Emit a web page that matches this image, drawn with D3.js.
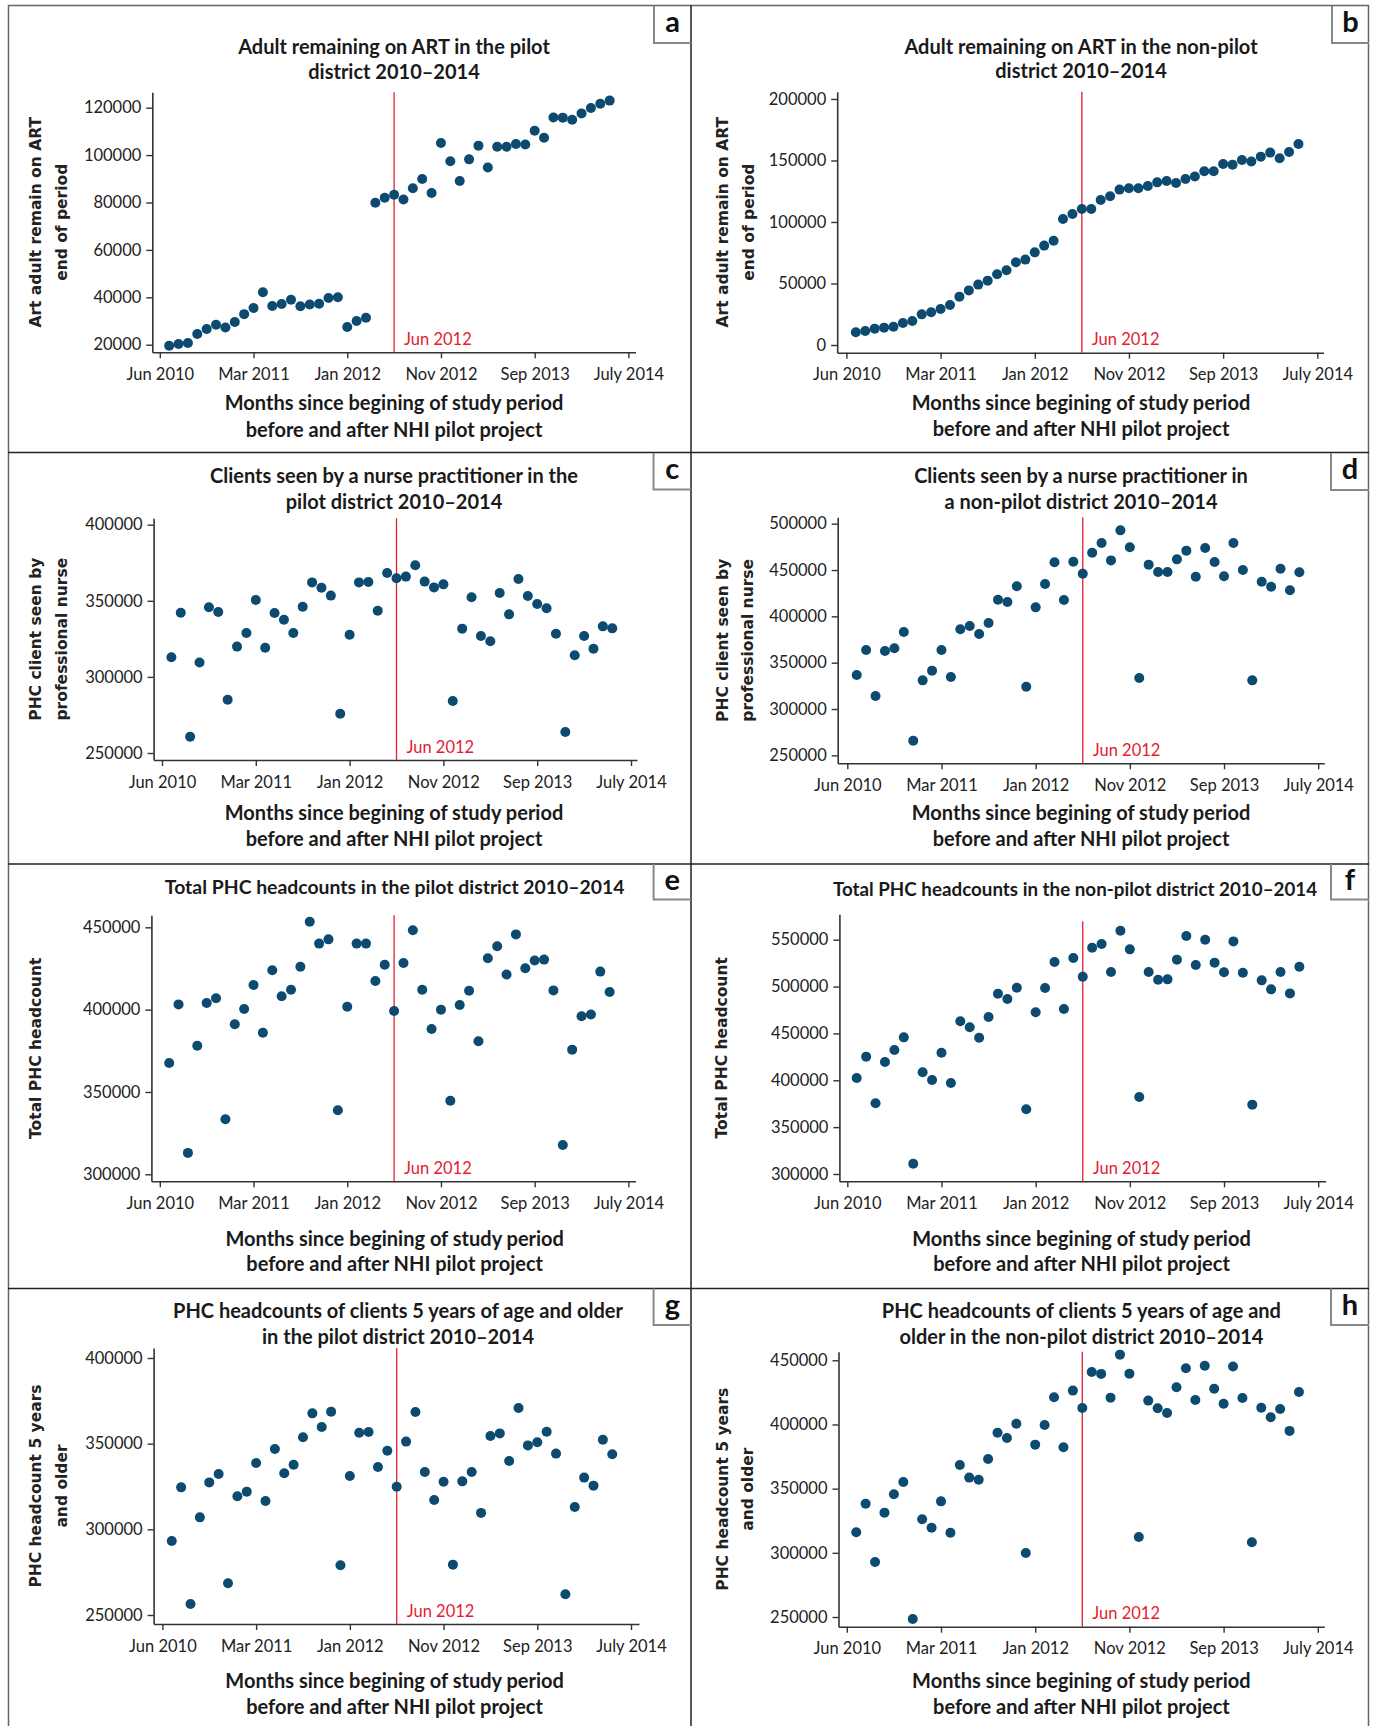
<!DOCTYPE html>
<html>
<head>
<meta charset="utf-8">
<script src="https://cdn.jsdelivr.net/npm/d3@7"></script>
<style>
  body { margin: 0; background: #fff; }
  svg text { font-family: Lato, "Open Sans", sans-serif; }
</style>
</head>
<body>
<svg id="fig" width="1375" height="1726"></svg>
<script>
// month index since start of study period (Jun 2010 = 0)
const months = [1, 2, 3, 4, 5, 6, 7, 8, 9, 10, 11, 12, 13, 14, 15, 16, 17, 18, 19, 20, 21, 22, 23, 24,
  25, 26, 27, 28, 29, 30, 31, 32, 33, 34, 35, 36, 37, 38, 39, 40, 41, 42, 43, 44, 45, 46, 47, 48];
const xTickValues = [0, 10, 20, 30, 40, 50];
const xTickLabels = ["Jun 2010", "Mar 2011", "Jan 2012", "Nov 2012", "Sep 2013", "July 2014"];
const pilotStart = 25;
const pilotLabel = "Jun 2012";
const xTitle = ["Months since begining of study period", "before and after NHI pilot project"];

// a: adults remaining on ART, pilot
const artPilot = [19600, 20300, 20700, 24500, 26600, 28400, 27300, 29600, 32900, 35500, 42100, 36300,
  37200, 39000, 36200, 37000, 37300, 39700, 40000, 27500, 30000, 31400, 79900, 82000,
  83300, 81300, 86000, 89900, 84000, 105100, 97400, 89100, 98200, 104000, 94800, 103500,
  103500, 104700, 104500, 110300, 107300, 115900, 115800, 114900, 117600, 119900, 121700, 123000];
// b: adults remaining on ART, non-pilot
const artNonPilot = [10300, 11400, 13300, 14100, 14900, 17900, 19500, 24900, 26600, 29300, 32500, 39300,
  44400, 49100, 52300, 57500, 60700, 67200, 69400, 75300, 80800, 84800, 102400, 106500,
  110600, 110600, 117900, 120900, 126300, 127400, 127400, 129300, 132200, 133300, 131700, 135000,
  136900, 141200, 141200, 147200, 146600, 150400, 149100, 153100, 156400, 151800, 156900, 163400];
// c: clients seen by nurse, pilot
const nursePilot = [312900, 342200, 260700, 309400, 345700, 342600, 285000, 319900, 328800, 350500, 319200, 342000,
  337600, 328800, 346100, 362100, 358600, 353400, 275800, 327700, 362100, 362400, 343500, 368300,
  364800, 365900, 373300, 362600, 358800, 360800, 284200, 331700, 352300, 326900, 323400, 355100,
  341100, 364300, 353200, 347900, 345100, 328400, 263800, 314200, 326900, 318500, 333200, 331900];
// d: clients seen by nurse, non-pilot
const nurseNonPilot = [336700, 363700, 314000, 362600, 365500, 383100, 265800, 330900, 341400, 363700, 334500, 386000,
  389600, 380900, 392800, 418000, 415500, 432400, 324100, 409700, 434900, 458300, 417600, 459000,
  446000, 468700, 479100, 460400, 492800, 474500, 333500, 455800, 447800, 447800, 461500, 470900,
  442800, 473700, 458600, 443200, 479100, 450000, 330900, 437400, 432000, 451400, 428100, 447500];
// e: total PHC headcount, pilot
const totalPilot = [367600, 403200, 313000, 378100, 404000, 406900, 333400, 391100, 400400, 415000, 386000, 423900,
  408100, 412100, 426100, 453400, 440100, 442700, 338900, 401800, 440100, 440100, 417400, 427300,
  399200, 428300, 448200, 412100, 388300, 400000, 344700, 402800, 411500, 380800, 431200, 438500,
  421300, 445700, 425100, 429800, 430400, 411700, 317800, 375700, 396000, 397000, 423100, 410700];
// f: total PHC headcount, non-pilot
const totalNonPilot = [402400, 425200, 375400, 419500, 432300, 445800, 311000, 408500, 400300, 429400, 397100, 462900,
  456500, 445400, 467500, 492400, 486700, 498800, 369000, 472500, 498400, 526200, 476000, 530500,
  510500, 541500, 545400, 515500, 559600, 539700, 382100, 515500, 507300, 507700, 528700, 553900,
  523000, 550000, 525500, 515200, 548200, 514800, 374000, 506600, 497000, 515500, 492700, 521200];
// g: headcount 5 years and older, pilot
const over5Pilot = [293200, 324500, 256400, 307000, 327400, 332300, 268500, 319300, 322000, 338700, 316500, 346900,
  332700, 337700, 353700, 367700, 359700, 368700, 279000, 331100, 356400, 356800, 336400, 345900,
  324900, 351200, 368500, 333500, 317100, 327800, 279400, 328000, 333500, 309600, 354500, 356000,
  339900, 370800, 349000, 350800, 357000, 344200, 262100, 313000, 330200, 325500, 352300, 343800];
// h: headcount 5 years and older, non-pilot
const over5NonPilot = [316000, 338300, 292900, 331300, 345600, 355200, 248400, 326100, 319600, 340100, 315700, 368400,
  358600, 357000, 373100, 393600, 389500, 400600, 299900, 384300, 399600, 421200, 382200, 426400,
  412900, 440900, 439400, 420900, 454400, 439600, 312300, 418600, 412600, 409000, 429000, 443800,
  419100, 445800, 427900, 416200, 445100, 420600, 308200, 413100, 405600, 412100, 395000, 425300];

const panels = [
  { key: "a", values: artPilot, yTicks: [20000, 40000, 60000, 80000, 100000, 120000], yDomain: [16800, 126500],
    title: ["Adult remaining on ART in the pilot", "district 2010\u20132014"], yLabel: ["Art adult remain on ART", "end of period"],
    box: { left: 152.3, right: 635.5, top: 92.3, bottom: 352.3, x0: 159.8, x50: 628.4 },
    titleX: 394, titleY: [46.7, 71.7], xTitleY: [403, 430], yLabelX: [35.3, 61.8], tag: [654, 6, 691, 43] },
  { key: "b", values: artNonPilot, yTicks: [0, 50000, 100000, 150000, 200000], yDomain: [-6260, 205900],
    title: ["Adult remaining on ART in the non-pilot", "district 2010\u20132014"], yLabel: ["Art adult remain on ART", "end of period"],
    box: { left: 837.2, right: 1323.5, top: 91.7, bottom: 352.7, x0: 846.4, x50: 1317.3 },
    titleX: 1081, titleY: [46.7, 71], xTitleY: [403.3, 429.3], yLabelX: [722.8, 749], tag: [1332, 6, 1369, 43] },
  { key: "c", values: nursePilot, yTicks: [250000, 300000, 350000, 400000], yDomain: [245400, 404200],
    title: ["Clients seen by a nurse practitioner in the", "pilot district  2010\u20132014"], yLabel: ["PHC client seen by", "professional nurse"],
    box: { left: 153.6, right: 637, top: 518.3, bottom: 760, x0: 162, x50: 631 },
    titleX: 394, titleY: [476, 501.7], xTitleY: [813.3, 839], yLabelX: [35.3, 61.8], tag: [653.5, 453, 691, 489.5] },
  { key: "d", values: nurseNonPilot, yTicks: [250000, 300000, 350000, 400000, 450000, 500000], yDomain: [241400, 506900],
    title: ["Clients seen by a nurse practitioner in", "a non-pilot district  2010\u20132014"], yLabel: ["PHC client seen by", "professional nurse"],
    box: { left: 837.7, right: 1324.3, top: 517.3, bottom: 763.3, x0: 847.3, x50: 1318.2 },
    titleX: 1081, titleY: [476, 501.7], xTitleY: [813.3, 839.3], yLabelX: [722.8, 748], tag: [1331, 453, 1369, 490] },
  { key: "e", values: totalPilot, yTicks: [300000, 350000, 400000, 450000], yDomain: [295750, 457300],
    title: ["Total PHC headcounts in the pilot district 2010\u20132014"], yLabel: ["Total PHC headcount"],
    box: { left: 151.4, right: 635.5, top: 915.3, bottom: 1181.3, x0: 159.8, x50: 628.4 },
    titleX: 394.7, titleY: [887], titleSize: 19.4, xTitleY: [1238.7, 1264.3], yLabelX: [35.3], tag: [653.6, 864, 691, 899.5] },
  { key: "f", values: totalNonPilot, yTicks: [300000, 350000, 400000, 450000, 500000, 550000], yDomain: [292200, 577100],
    title: ["Total PHC headcounts in the non-pilot district 2010\u20132014"], yLabel: ["Total PHC headcount"],
    box: { left: 839.4, right: 1325.6, top: 914.3, bottom: 1181.3, x0: 847.3, x50: 1318.2 },
    titleX: 1075, xTitleX: 1081.5, titleY: [889.3], titleSize: 18.8, xTitleY: [1238.7, 1264.3], yLabelX: [721.5], tag: [1331, 864, 1369, 899.5], lineTop: 921.3 },
  { key: "g", values: over5Pilot, yTicks: [250000, 300000, 350000, 400000], yDomain: [244750, 405840],
    title: ["PHC headcounts of clients 5 years of age and older", "in the pilot district  2010\u20132014"], yLabel: ["PHC headcount 5 years", "and older"],
    box: { left: 153.6, right: 639, top: 1348, bottom: 1624, x0: 162.4, x50: 631 },
    titleX: 398, xTitleX: 394.6, titleY: [1311, 1336.7], xTitleY: [1680.7, 1706.7], yLabelX: [35.3, 61.8], tag: [653.6, 1288.5, 691, 1325] },
  { key: "h", values: over5NonPilot, yTicks: [250000, 300000, 350000, 400000, 450000], yDomain: [242450, 456700],
    title: ["PHC headcounts of clients 5 years of age and", "older in the non-pilot district 2010\u20132014"], yLabel: ["PHC headcount 5 years", "and older"],
    box: { left: 838.5, right: 1324.3, top: 1351.7, bottom: 1626.7, x0: 846.8, x50: 1317.8 },
    titleX: 1081.4, titleY: [1311, 1336.7], xTitleY: [1680.7, 1706.7], yLabelX: [722.8, 748], tag: [1331, 1288.5, 1369, 1325] }
];

const dotColor = "#0c4a70";
const red = "#e4202e";
const axisColor = "#333";

const svg = d3.select("#fig");

// panel frame
const frame = svg.append("g").attr("fill", "none");
frame.append("path").attr("d", "M8.5,1726V5.5H1368.5V1726").attr("stroke", "#666").attr("stroke-width", 1.5);
frame.append("line").attr("x1", 691).attr("x2", 691).attr("y1", 5).attr("y2", 1726).attr("stroke", "#222").attr("stroke-width", 1.5);
[452.5, 864, 1288.5].forEach((yy) => {
  frame.append("line").attr("x1", 8).attr("x2", 1369).attr("y1", yy).attr("y2", yy).attr("stroke", "#222").attr("stroke-width", 1.5);
});

panels.forEach(drawPanel);

function drawPanel(p) {
  const b = p.box;
  const base = d3.scaleLinear().domain([0, 50]).range([b.x0, b.x50]);
  const x = d3.scaleLinear().domain([base.invert(b.left), base.invert(b.right)]).range([b.left, b.right]);
  const y = d3.scaleLinear().domain(p.yDomain).range([b.bottom, b.top]);
  const g = svg.append("g").attr("id", "panel-" + p.key);

  // corner tag
  const [tx0, ty0, tx1, ty1] = p.tag;
  g.append("path")
    .attr("d", `M${tx0},${ty0}V${ty1}H${tx1}`)
    .attr("fill", "none").attr("stroke", "#888").attr("stroke-width", 2);
  g.append("text")
    .attr("x", (tx0 + tx1) / 2).attr("y", ty0 + 26)
    .attr("text-anchor", "middle")
    .attr("font-size", 29).attr("font-weight", 700).attr("fill", "#111")
    .text(p.key);

  // title
  p.title.forEach((t, i) => {
    g.append("text")
      .attr("x", p.titleX).attr("y", p.titleY[i]).attr("dy", "0.35em")
      .attr("text-anchor", "middle")
      .attr("font-size", p.titleSize || 20).attr("font-weight", 700).attr("fill", "#1a1a1a")
      .text(t);
  });

  // axes
  const yAxis = g.append("g")
    .attr("transform", `translate(${b.left},0)`)
    .call(d3.axisLeft(y).tickValues(p.yTicks).tickFormat(d3.format("d")).tickSizeOuter(0).tickSizeInner(6).tickPadding(5));
  const xAxis = g.append("g")
    .attr("transform", `translate(0,${b.bottom})`)
    .call(d3.axisBottom(x).tickValues(xTickValues).tickFormat((d, i) => xTickLabels[i]).tickSizeOuter(0).tickSizeInner(6).tickPadding(10));
  [xAxis, yAxis].forEach((ax) => {
    ax.select(".domain").attr("stroke", axisColor).attr("stroke-width", 1.6);
    ax.selectAll(".tick line").attr("stroke", axisColor).attr("stroke-width", 1.4);
    ax.selectAll(".tick text").attr("fill", "#222")
      .style("font-size", "16.5px").style("font-family", "Lato, sans-serif");
  });

  // y label
  const cy = (b.top + b.bottom) / 2;
  p.yLabel.forEach((t, i) => {
    const cx = p.yLabelX[i];
    g.append("text")
      .attr("transform", `translate(${cx},${cy}) rotate(-90)`)
      .attr("dy", "0.35em")
      .attr("text-anchor", "middle")
      .style("font-family", "'DejaVu Sans', sans-serif")
      .style("font-size", "15.5px").style("font-weight", 700).attr("fill", "#222")
      .text(t);
  });

  // x title
  xTitle.forEach((t, i) => {
    g.append("text")
      .attr("x", p.xTitleX || p.titleX).attr("y", p.xTitleY[i]).attr("dy", "0.35em")
      .attr("text-anchor", "middle")
      .attr("font-size", 20).attr("font-weight", 700).attr("fill", "#1a1a1a")
      .text(t);
  });

  // pilot start line
  const lx = x(pilotStart);
  g.append("line")
    .attr("x1", lx).attr("x2", lx)
    .attr("y1", p.lineTop || b.top).attr("y2", b.bottom)
    .attr("stroke", red).attr("stroke-width", 1.3);
  g.append("text")
    .attr("x", lx + 10).attr("y", b.bottom - 13).attr("dy", "0.35em")
    .attr("font-size", 16.5).attr("fill", red)
    .text(pilotLabel);

  // points
  g.append("g")
    .selectAll("circle")
    .data(months.map((m, i) => ({ m, v: p.values[i] })))
    .join("circle")
    .attr("cx", (d) => x(d.m))
    .attr("cy", (d) => y(d.v))
    .attr("r", 5)
    .attr("fill", dotColor);
}
</script>
</body>
</html>
